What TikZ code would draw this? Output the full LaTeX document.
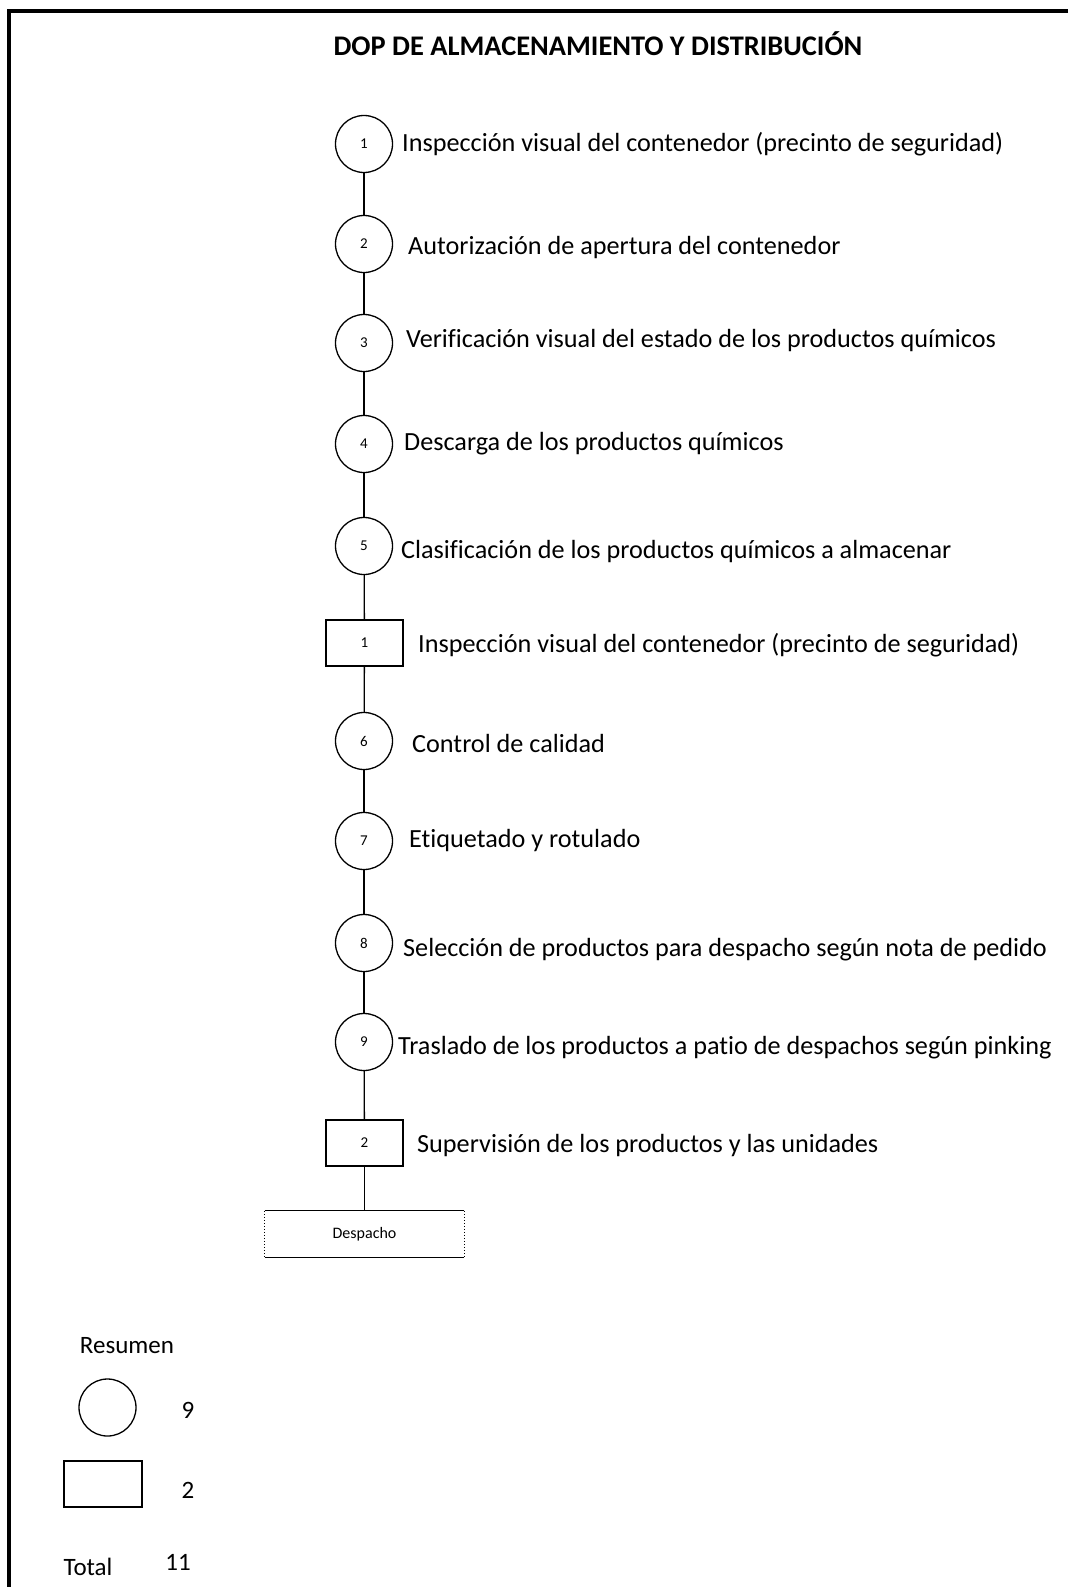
\documentclass[tikz,border=0pt]{standalone}
\usepackage{fontspec}
\setmainfont{Carlito}[Ligatures=NoCommon]
\begin{document}
\begin{tikzpicture}[x=1pt,y=-1pt,
  op/.style={circle,draw,line width=1.3pt,minimum size=57pt,inner sep=0pt,font=\fontsize{15}{15}\selectfont},
  insp/.style={rectangle,draw,line width=1.3pt,minimum width=77pt,minimum height=46pt,inner sep=0pt,font=\fontsize{15}{15}\selectfont},
  lbl/.style={anchor=west,inner sep=0pt,font=\fontsize{26.2}{26.2}\selectfont},
  sumtxt/.style={inner sep=0pt,font=\fontsize{25}{25}\selectfont},
  link/.style={line width=1.3pt}]
\useasboundingbox (0,0) rectangle (1068,1587);
% frame
\coordinate (ftr) at (1068,11);
\coordinate (ftl) at (9,11);
\coordinate (fbl) at (9,1587);
\draw[line width=4pt] (ftr) -- (ftl) -- (fbl);
% title
\node[inner sep=0pt,font=\fontsize{28.4}{28.4}\selectfont\bfseries] (title) at (598,44) {DOP DE ALMACENAMIENTO Y DISTRIBUCIÓN};
% chart
\node[op] (c1) at (364,144) {1};
\node[op] (c2) at (364,244) {2};
\node[op] (c3) at (364,343) {3};
\node[op] (c4) at (364,444) {4};
\node[op] (c5) at (364,546) {5};
\node[insp] (r1) at (364.5,643) {1};
\node[op] (c6) at (364,741) {6};
\node[op] (c7) at (364,841) {7};
\node[op] (c8) at (364,943) {8};
\node[op] (c9) at (364,1042) {9};
\node[insp] (r2) at (364.5,1143) {2};
\node[inner sep=0pt,minimum width=199pt,minimum height=46pt,font=\fontsize{16}{16}\selectfont] (desp) at (364.5,1234) {Despacho};
\draw[line width=1.2pt] (desp.north west) -- (desp.north east);
\draw[line width=1.2pt] (desp.south west) -- (desp.south east);
\draw[dotted,line width=1pt] (desp.north west) -- (desp.south west);
\draw[dotted,line width=1pt] (desp.north east) -- (desp.south east);
\foreach \a/\b in {c1/c2,c2/c3,c3/c4,c4/c5,c5/r1,r1/c6,c6/c7,c7/c8,c8/c9,c9/r2}
  \draw[link] (\a) -- (\b);
\draw[link] (r2.south) -- (desp.north);
% labels
\node[lbl] (l1) at (402,144) {Inspección visual del contenedor (precinto de seguridad)};
\node[lbl] (l2) at (408,248) {Autorización de apertura del contenedor};
\node[lbl] (l3) at (406,341) {Verificación visual del estado de los productos químicos};
\node[lbl] (l4) at (404,444) {Descarga de los productos químicos};
\node[lbl] (l5) at (401,552) {Clasificación de los productos químicos a almacenar};
\node[lbl] (lr1) at (418,645) {Inspección visual del contenedor (precinto de seguridad)};
\node[lbl] (l6) at (412,743) {Control de calidad};
\node[lbl] (l7) at (409,841) {Etiquetado y rotulado};
\node[lbl] (l8) at (403,950) {Selección de productos para despacho según nota de pedido};
\node[lbl] (l9) at (398,1048) {Traslado de los productos a patio de despachos según pinking};
\node[lbl] (lr2) at (417,1146) {Supervisión de los productos y las unidades};
% summary
\node[sumtxt] (res) at (127,1346) {Resumen};
\node[op,minimum size=57pt] (sc) at (107.5,1407.5) {};
\node[sumtxt] (n9) at (188,1410) {9};
\node[insp,minimum width=78pt] (sr) at (103,1484) {};
\node[sumtxt] (n2) at (188,1490) {2};
\node[sumtxt] (tot) at (88,1567) {Total};
\node[sumtxt] (n11) at (178,1562) {11};
\end{tikzpicture}
\end{document}
